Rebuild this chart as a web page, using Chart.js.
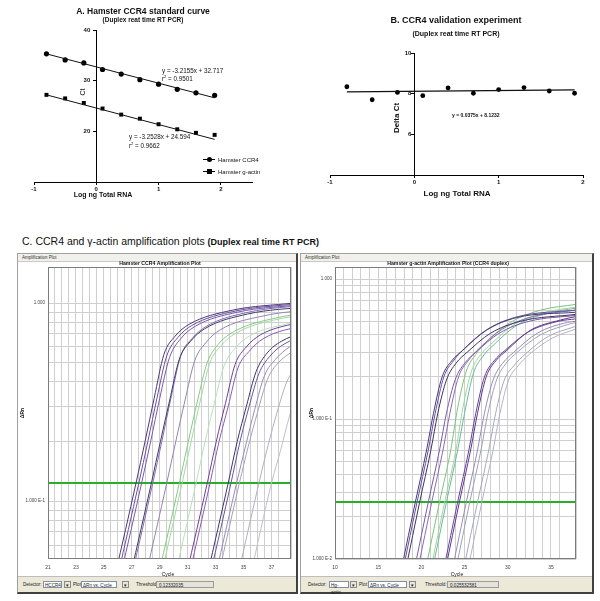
<!DOCTYPE html>
<html>
<head>
<meta charset="utf-8">
<script src="https://cdn.jsdelivr.net/npm/chart.js@4.4.1/dist/chart.umd.min.js"></script>
<style>
  body { margin: 0; width: 600px; height: 601px; background: #fff; position: relative; overflow: hidden;
         font-family: "Liberation Sans", Arial, sans-serif; }
  canvas { position: absolute; }
  .t { position: absolute; white-space: nowrap; line-height: 1; color: #111; }
  .c { transform: translate(-50%, -50%); }
  .l { transform: translate(0, -50%); }
  .rot { transform: translate(-50%, -50%) rotate(-90deg); }
  .b { font-weight: bold; }
  .win { position: absolute; background: #fff; box-sizing: border-box;
         border: 1px solid #a0a0a0; border-right: 2px solid #404040; border-bottom: 2px solid #404040; }
  .cap { position: absolute; left: 0; right: 0; top: 0; height: 7px; background: #f1f0ea;
         border-bottom: 1px solid #c9c9c9; font-size: 4.5px; line-height: 7px; padding-left: 4px; color: #333; }
  .bar { position: absolute; left: 0; right: 0; bottom: 0; height: 15px; background: #ece9d8; border-top: 1px solid #bdbdbd; }
  .bar div { position: absolute; top: 4px; height: 7px; font-size: 4.6px; line-height: 7px; color: #222; box-sizing: border-box; }
  .bx { border: 1px solid #7f8fa8; background: #fff; padding-left: 1px; }
  .gx { border: 1px solid #9a9a9a; background: #e4e2da; padding-left: 2px; }
  .ar { border: 1px solid #8a8a8a; background: #e8e6de; text-align: center; }
</style>
</head>
<body>

<!-- panel A / B -->
<canvas id="stdCurve" width="300" height="205" style="left:0;top:0"></canvas>
<canvas id="validation" width="300" height="205" style="left:300px;top:0"></canvas>

<div class="t c b" style="left:143px;top:11px;font-size:8.5px">A. Hamster CCR4 standard curve</div>
<div class="t c b" style="left:143px;top:20px;font-size:6.5px">(Duplex reat time RT PCR)</div>
<div class="t c b" style="left:103px;top:194px;font-size:7px">Log ng Total RNA</div>
<div class="t rot" style="left:82px;top:92px;font-size:7px">Ct</div>
<div class="t l" style="left:162px;top:71px;font-size:6.3px">y = -3.2155x + 32.717</div>
<div class="t l" style="left:162px;top:79px;font-size:6.3px">r<sup style="font-size:4px">2</sup> = 0.9501</div>
<div class="t l" style="left:129px;top:137px;font-size:6.3px">y = -3.2528x + 24.594</div>
<div class="t l" style="left:129px;top:146px;font-size:6.3px">r<sup style="font-size:4px">2</sup> = 0.9662</div>
<div style="position:absolute;left:203px;top:159px;width:12px;height:1px;background:#000"></div>
<div style="position:absolute;left:206.5px;top:156.5px;width:5px;height:5px;border-radius:50%;background:#000"></div>
<div class="t l" style="left:218px;top:159.5px;font-size:6px">Hamster CCR4</div>
<div style="position:absolute;left:203px;top:171px;width:12px;height:1px;background:#000"></div>
<div style="position:absolute;left:207px;top:169px;width:5px;height:5px;background:#000"></div>
<div class="t l" style="left:218px;top:171.5px;font-size:6px">Hamster g-actin</div>

<div class="t c b" style="left:456px;top:20px;font-size:9px">B. CCR4 validation experiment</div>
<div class="t c b" style="left:456px;top:33px;font-size:7px">(Duplex reat time RT PCR)</div>
<div class="t c b" style="left:457px;top:194px;font-size:8px">Log ng Total RNA</div>
<div class="t rot b" style="left:397px;top:118px;font-size:8px">Delta Ct</div>
<div class="t l b" style="left:452px;top:115px;font-size:5px">y = 0.0375x + 8.1232</div>

<!-- panel C -->
<div class="t l" style="left:22px;top:241px;font-size:10.5px">C. CCR4 and γ-actin amplification plots <span class="b" style="font-size:9px">(Duplex real time RT PCR)</span></div>

<div class="win" style="left:17px;top:253px;width:281px;height:341px">
  <div class="cap">Amplification Plot</div>
  <div class="bar">
    <div style="left:5px">Detector:</div>
    <div class="bx" style="left:25px;width:19px">HCCR4</div>
    <div class="ar" style="left:46px;width:7px">▾</div>
    <div style="left:55px">Plot:</div>
    <div class="bx" style="left:63px;width:36px">ΔRn vs. Cycle</div>
    <div class="ar" style="left:104px;width:7px">▾</div>
    <div style="left:118px">Threshold:</div>
    <div class="gx" style="left:138px;width:58px">0.12332035</div>
  </div>
</div>
<div class="win" style="left:300px;top:253px;width:294px;height:341px">
  <div class="cap">Amplification Plot</div>
  <div class="bar">
    <div style="left:7px">Detector:</div>
    <div class="bx" style="left:28px;width:20px">Hg-actin</div>
    <div class="ar" style="left:49px;width:7px">▾</div>
    <div style="left:58px">Plot:</div>
    <div class="bx" style="left:67px;width:39px">ΔRn vs. Cycle</div>
    <div class="ar" style="left:108px;width:7px">▾</div>
    <div style="left:124px">Threshold:</div>
    <div class="gx" style="left:146px;width:52px">0.025532581</div>
  </div>
</div>

<canvas id="ccr4Amp" width="279" height="316" style="left:18px;top:260px"></canvas>
<canvas id="actinAmp" width="290" height="316" style="left:301px;top:260px"></canvas>

<div class="t c b" style="left:160px;top:264px;font-size:5.2px">Hamster CCR4 Amplification Plot</div>
<div class="t c b" style="left:448px;top:264px;font-size:5.2px">Hamster g-actin Amplification Plot (CCR4 duplex)</div>
<div class="t rot b" style="left:22px;top:413px;font-size:5px">ΔRn</div>
<div class="t rot b" style="left:311px;top:413px;font-size:5px">ΔRn</div>
<div class="t c" style="left:168px;top:574px;font-size:5px">Cycle</div>
<div class="t c" style="left:457px;top:574px;font-size:5px">Cycle</div>

<script>
// ---- A: standard curve ----
const logRna = [-0.8, -0.5, -0.2, 0.1, 0.4, 0.7, 1.0, 1.3, 1.6, 1.9];
const ccr4Ct = [35.3, 34.1, 33.5, 32.2, 31.3, 30.2, 29.3, 28.3, 27.6, 27.1];
const actinCt = [27.2, 26.5, 25.6, 24.5, 23.3, 22.5, 21.4, 20.4, 19.7, 19.3];
const fitX = [-0.8, 1.9];
const ccr4Fit = [35.29, 26.61];
const actinFit = [27.2, 18.41];
const stdXTicks = [-1, 0, 1, 2];
const stdYTicks = [20, 30, 40];

// ---- B: validation ----
const deltaCt = [8.34, 7.7, 8.06, 7.9, 8.28, 8.02, 8.2, 8.3, 8.13, 8.02];
const deltaFit = [8.09, 8.19];
const valXTicks = [-1, 0, 1, 2];
const valYTicks = [6, 8, 10];

// ---- C: amplification plots, each curve is [cycle, delta Rn] pairs ----
const ccr4Curves = [
  [[25.8,0.042],[27.3,0.123],[27.95,0.2],[28.6,0.33],[29.3,0.55],[30.1,0.68],[31.1,0.78],[34.2,0.92],[38.6,1.0]],
  [[26.0,0.042],[27.5,0.123],[28.15,0.2],[28.8,0.33],[29.5,0.54],[30.3,0.67],[31.3,0.77],[34.4,0.91],[38.8,0.99]],
  [[26.2,0.042],[27.7,0.123],[28.35,0.2],[29.0,0.33],[29.7,0.53],[30.5,0.66],[31.5,0.76],[34.6,0.9],[39.0,0.98]],
  [[26.9,0.042],[28.4,0.123],[29.05,0.2],[29.7,0.32],[30.4,0.52],[31.2,0.64],[32.2,0.74],[35.3,0.88],[39.7,0.96]],
  [[27.0,0.042],[28.5,0.123],[29.15,0.2],[29.8,0.33],[30.5,0.54],[31.3,0.66],[32.3,0.76],[35.4,0.9],[39.8,0.98]],
  [[28.0,0.042],[29.5,0.123],[30.15,0.2],[30.8,0.32],[31.5,0.51],[32.3,0.63],[33.3,0.73],[36.4,0.86],[40.8,0.94]],
  [[28.9,0.042],[30.4,0.123],[31.05,0.2],[31.7,0.32],[32.4,0.5],[33.2,0.62],[34.2,0.71],[37.3,0.84],[41.7,0.92]],
  [[29.1,0.042],[30.6,0.123],[31.25,0.2],[31.9,0.32],[32.6,0.5],[33.4,0.61],[34.4,0.7],[37.5,0.83],[41.9,0.9]],
  [[30.1,0.042],[31.6,0.123],[32.25,0.2],[32.9,0.31],[33.6,0.48],[34.4,0.59],[35.4,0.68],[38.5,0.8]],
  [[30.9,0.042],[32.4,0.123],[33.05,0.2],[33.7,0.31],[34.4,0.49],[35.2,0.6],[36.2,0.69],[39.3,0.81]],
  [[31.1,0.042],[32.6,0.123],[33.25,0.2],[33.9,0.3],[34.6,0.47],[35.4,0.57],[36.4,0.66],[39.5,0.78]],
  [[32.4,0.042],[33.9,0.123],[34.55,0.2],[35.2,0.3],[35.9,0.45],[36.7,0.56],[37.7,0.64],[40.8,0.76]],
  [[32.6,0.042],[34.1,0.123],[34.75,0.2],[35.4,0.3],[36.1,0.44],[36.9,0.54],[37.9,0.62],[41.0,0.74]],
  [[33.0,0.042],[34.5,0.123],[35.15,0.19],[35.8,0.29],[36.5,0.43],[37.3,0.52],[38.3,0.6],[41.4,0.72]],
  [[33.2,0.042],[34.7,0.123],[35.35,0.19],[36.0,0.28],[36.7,0.41],[37.5,0.5],[38.5,0.57]],
  [[34.6,0.042],[36.1,0.123],[36.75,0.19],[37.4,0.28],[38.1,0.4],[38.9,0.49]],
  [[35.5,0.042],[37.0,0.123],[37.65,0.18],[38.3,0.27],[39.0,0.38]]
];
const ccr4Colors = ['#4a3878', '#6b4fa0', '#7a5aa8', '#3d3d66', '#8a6bb5', '#9484ad',
  '#86c986', '#a4d9a4', '#b8e2b8', '#6b3f99', '#8a5cb0', '#3f3566', '#6a55a0',
  '#9a8ab8', '#a3a3b5', '#b0b0c0', '#c0c0cc'];
const ccr4Threshold = 0.1233;
const ccr4CycleRange = [21, 38.4];
const ccr4CycleLabels = [21, 23, 25, 27, 29, 31, 33, 35, 37];
const ccr4RnRange = [0.051, 1.52];
const ccr4RnGrid = [0.06, 0.07, 0.08, 0.09, 0.1, 0.2, 0.3, 0.4, 0.5, 0.6, 0.7, 0.8, 0.9, 1];

const actinCurves = [
  [[17.7,0.0085],[19.3,0.0255],[20.6,0.06],[21.4,0.11],[22.4,0.2],[23.5,0.26],[24.8,0.31],[27.5,0.43],[31.0,0.53],[37.9,0.58]],
  [[17.9,0.0085],[19.5,0.0255],[20.8,0.06],[21.6,0.11],[22.6,0.2],[23.7,0.26],[25.0,0.32],[27.7,0.44],[31.2,0.54],[37.9,0.6]],
  [[18.2,0.0085],[19.8,0.0255],[21.1,0.06],[21.9,0.11],[22.9,0.19],[24.0,0.25],[25.3,0.3],[28.0,0.41],[31.5,0.5],[37.9,0.56]],
  [[19.2,0.0085],[20.8,0.0255],[22.1,0.06],[22.9,0.11],[23.9,0.19],[25.0,0.25],[26.3,0.3],[29.0,0.41],[32.5,0.5],[37.9,0.55]],
  [[19.6,0.0085],[21.2,0.0255],[22.5,0.06],[23.3,0.11],[24.3,0.2],[25.4,0.26],[26.7,0.32],[29.4,0.44],[32.9,0.54],[37.9,0.6]],
  [[20.5,0.0085],[22.1,0.0255],[23.4,0.06],[24.2,0.12],[25.2,0.22],[26.3,0.29],[27.6,0.36],[30.3,0.49],[33.8,0.6],[37.9,0.66]],
  [[21.1,0.0085],[22.7,0.0255],[24.0,0.06],[24.8,0.12],[25.8,0.22],[26.9,0.29],[28.2,0.35],[30.9,0.48],[34.4,0.58],[37.9,0.63]],
  [[21.3,0.0085],[22.9,0.0255],[24.2,0.06],[25.0,0.11],[26.0,0.21],[27.1,0.28],[28.4,0.34],[31.1,0.47],[34.6,0.57],[37.9,0.62]],
  [[22.6,0.0085],[24.2,0.0255],[25.5,0.06],[26.3,0.11],[27.3,0.2],[28.4,0.26],[29.7,0.31],[32.4,0.42],[35.9,0.5],[37.9,0.52]],
  [[22.8,0.0085],[24.4,0.0255],[25.7,0.06],[26.5,0.11],[27.5,0.2],[28.6,0.26],[29.9,0.31],[32.6,0.43],[36.1,0.51],[37.9,0.54]],
  [[23.6,0.0085],[25.2,0.0255],[26.5,0.06],[27.3,0.11],[28.3,0.19],[29.4,0.25],[30.7,0.3],[33.4,0.41],[36.9,0.49],[37.9,0.5]],
  [[24.0,0.0085],[25.6,0.0255],[26.9,0.06],[27.7,0.11],[28.7,0.19],[29.8,0.25],[31.1,0.3],[33.8,0.4],[37.3,0.48],[37.9,0.49]],
  [[24.9,0.0085],[26.5,0.0255],[27.8,0.06],[28.6,0.11],[29.6,0.19],[30.7,0.24],[32.0,0.29],[34.7,0.39],[37.9,0.46]],
  [[25.4,0.0085],[27.0,0.0255],[28.3,0.06],[29.1,0.11],[30.1,0.19],[31.2,0.24],[32.5,0.29],[35.2,0.38],[37.9,0.44]]
];
const actinColors = ['#4a3a7a', '#6b4fa0', '#3d3560', '#7a5aa8', '#8a6bb5', '#7cc47c', '#9fd59f',
  '#6fb89a', '#6a3f99', '#5b3a8a', '#9a8ab8', '#a0a0b4', '#a8a8bc', '#b4b4c4'];
const actinThreshold = 0.0255;
const actinCycleRange = [10, 37.9];
const actinCycleLabels = [10, 15, 20, 25, 30, 35];
const actinRnRange = [0.01, 1.22];
const actinRnGrid = [0.01, 0.02, 0.03, 0.04, 0.05, 0.06, 0.07, 0.08, 0.09, 0.1,
  0.2, 0.3, 0.4, 0.5, 0.6, 0.7, 0.8, 0.9, 1];

const rnLabelValues = [1, 0.1, 0.01];
const rnLabelText = ['1.000', '1.000 E-1', '1.000 E-2'];

const font = 'Liberation Sans, Arial, sans-serif';
Chart.defaults.font.family = font;
Chart.defaults.animation = false;
Chart.defaults.responsive = false;
Chart.defaults.plugins.legend.display = false;
Chart.defaults.plugins.tooltip.enabled = false;

function pts(xs, ys) {
  return xs.map((x, i) => ({ x: x, y: ys[i] }));
}

// GraphPad style axes: x along the bottom, y axis crossing at x = 0.
// A y axis placed at a value right-aligns its labels on the axis line and ignores
// padding, so a trailing space (labelGap) keeps the numbers clear of the line.
function prismScales(xmin, xmax, xTicks, xHeight, ymin, ymax, yTicks, fontSize, labelGap) {
  return {
    x: {
      type: 'linear', min: xmin, max: xmax, position: 'bottom',
      afterBuildTicks: s => { s.ticks = xTicks.map(v => ({ value: v })); },
      afterFit: s => { s.height = xHeight; },
      grid: { drawOnChartArea: false, tickLength: 3, color: '#000' },
      border: { color: '#000', width: 1 },
      ticks: { color: '#111', font: { size: fontSize, weight: 'bold' }, padding: 1, maxRotation: 0, autoSkip: false }
    },
    y: {
      type: 'linear', min: ymin, max: ymax, position: { x: 0 },
      afterBuildTicks: s => { s.ticks = yTicks.map(v => ({ value: v })); },
      grid: { drawOnChartArea: false, tickLength: 3, color: '#000' },
      border: { color: '#000', width: 1 },
      ticks: { color: '#111', font: { size: fontSize, weight: 'bold' }, autoSkip: false,
               callback: v => String(v) + labelGap }
    }
  };
}

new Chart(document.getElementById('stdCurve'), {
  type: 'scatter',
  data: {
    datasets: [
      { data: pts(fitX, ccr4Fit), showLine: true, borderColor: '#111', borderWidth: 1, pointRadius: 0 },
      { data: pts(fitX, actinFit), showLine: true, borderColor: '#111', borderWidth: 1, pointRadius: 0 },
      { data: pts(logRna, ccr4Ct), pointStyle: 'circle', pointRadius: 2.6, backgroundColor: '#000', borderColor: '#000', borderWidth: 0 },
      { data: pts(logRna, actinCt), pointStyle: 'rect', pointRadius: 2.8, backgroundColor: '#000', borderColor: '#000', borderWidth: 0 }
    ]
  },
  options: {
    layout: { padding: { left: 34, right: 48, top: 30, bottom: 0 } },
    scales: prismScales(-1, 2.5, stdXTicks, 23, 10, 40, stdYTicks, 6, '\u2003')
  }
});

new Chart(document.getElementById('validation'), {
  type: 'scatter',
  data: {
    datasets: [
      { data: pts(fitX, deltaFit), showLine: true, borderColor: '#111', borderWidth: 1.2, pointRadius: 0 },
      { data: pts(logRna, deltaCt), pointStyle: 'circle', pointRadius: 2.4, backgroundColor: '#000', borderColor: '#000', borderWidth: 0 }
    ]
  },
  options: {
    layout: { padding: { left: 30, right: 17, top: 53, bottom: 0 } },
    scales: prismScales(-1, 2, valXTicks, 30, 4, 10, valYTicks, 6, '\u2002')
  }
});

// frame around the plotting area, like the SDS software
const plotFrame = {
  id: 'plotFrame',
  afterDraw(chart) {
    const a = chart.chartArea, ctx = chart.ctx;
    ctx.save();
    ctx.strokeStyle = '#7c7c7c';
    ctx.lineWidth = 1;
    ctx.strokeRect(a.left + 0.5, a.top + 0.5, a.right - a.left - 1, a.bottom - a.top - 1);
    ctx.restore();
  }
};

function ampChart(id, curves, colors, threshold, cycleRange, cycleStep, cycleLabels,
                  rnRange, rnGrid, padRight, yWidth) {
  const datasets = curves.map((c, i) => ({
    data: c.map(p => ({ x: p[0], y: p[1] })),
    showLine: true, borderColor: colors[i], borderWidth: 1, pointRadius: 0,
    cubicInterpolationMode: 'monotone'
  }));
  datasets.push({
    data: [{ x: cycleRange[0], y: threshold }, { x: cycleRange[1], y: threshold }],
    showLine: true, borderColor: '#27b027', borderWidth: 2, pointRadius: 0
  });

  return new Chart(document.getElementById(id), {
    type: 'scatter',
    data: { datasets: datasets },
    options: {
      layout: { padding: { left: 0, right: padRight, top: 7, bottom: 0 } },
      scales: {
        x: {
          type: 'linear', min: cycleRange[0], max: cycleRange[1],
          afterFit: s => { s.height = 17; },
          grid: { color: '#cfcfcf', drawTicks: false },
          border: { display: false },
          ticks: {
            stepSize: cycleStep, autoSkip: false, maxRotation: 0, padding: 6,
            color: '#444', font: { size: 5 },
            callback: v => cycleLabels.includes(v) ? String(v) : ''
          }
        },
        y: {
          type: 'logarithmic', min: rnRange[0], max: rnRange[1],
          afterFit: s => { s.width = yWidth; },
          afterBuildTicks: s => { s.ticks = rnGrid.map(v => ({ value: v })); },
          grid: { color: '#cfcfcf', drawTicks: false },
          border: { display: false },
          ticks: {
            autoSkip: false, padding: 3, color: '#444', font: { size: 4.5 },
            callback: v => {
              const i = rnLabelValues.indexOf(v);
              return i >= 0 ? rnLabelText[i] : '';
            }
          }
        }
      }
    },
    plugins: [plotFrame]
  });
}

ampChart('ccr4Amp', ccr4Curves, ccr4Colors, ccr4Threshold, ccr4CycleRange, 0.5, ccr4CycleLabels,
         ccr4RnRange, ccr4RnGrid, 6, 30);
ampChart('actinAmp', actinCurves, actinColors, actinThreshold, actinCycleRange, 1, actinCycleLabels,
         actinRnRange, actinRnGrid, 15, 34);
</script>
</body>
</html>
